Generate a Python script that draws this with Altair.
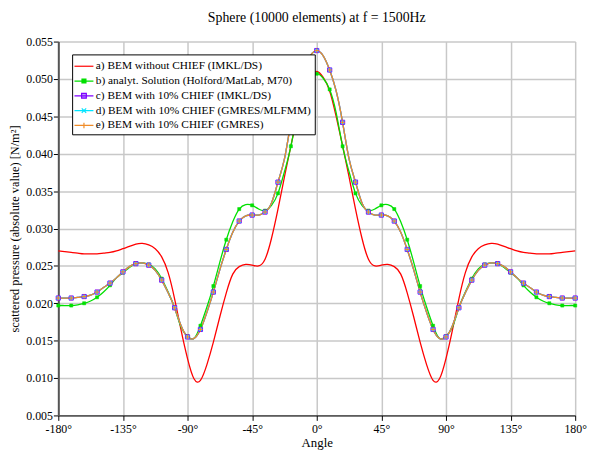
import altair as alt
import pandas as pd

names = [
    "a) BEM without CHIEF (IMKL/DS)",
    "b) analyt. Solution (Holford/MatLab, M70)",
    "c) BEM with 10% CHIEF (IMKL/DS)",
    "d) BEM with 10% CHIEF (GMRES/MLFMM)",
    "e) BEM with 10% CHIEF (GMRES)",
]
line_colors = ["#ff0000", "#00e000", "#8000ff", "#00e5ff", "#f08c28"]

x_ticks = [-180, -135, -90, -45, 0, 45, 90, 135, 180]
y_ticks = [0.005, 0.010, 0.015, 0.020, 0.025, 0.030, 0.035, 0.040, 0.045, 0.050, 0.055]

# sample angles (deg), 4.5 degree spacing
angles = [round(-180 + 4.5 * i, 1) for i in range(81)]

# a) red, -180 .. -4.5 and 0 .. 180
red_left = [0.0270, 0.0269, 0.0268, 0.0267, 0.0266, 0.0266, 0.0266, 0.0267, 0.0268, 0.0270,
            0.0273, 0.0276, 0.0279, 0.0280, 0.0278, 0.0273, 0.0262, 0.0241, 0.0206, 0.0164,
            0.0126, 0.0099, 0.0097, 0.0118, 0.0148, 0.0182, 0.0214, 0.0239, 0.0249, 0.0252,
            0.0251, 0.0250, 0.0259, 0.0287, 0.0326, 0.0369, 0.0411, 0.0450, 0.0484, 0.0502]
red_right = [0.0510, 0.0502, 0.0484, 0.0450, 0.0411, 0.0369, 0.0326, 0.0287, 0.0259, 0.0250,
             0.0251, 0.0252, 0.0249, 0.0239, 0.0214, 0.0182, 0.0148, 0.0118, 0.0097, 0.0099,
             0.0126, 0.0164, 0.0206, 0.0241, 0.0262, 0.0273, 0.0278, 0.0280, 0.0279, 0.0276,
             0.0273, 0.0270, 0.0268, 0.0267, 0.0266, 0.0266, 0.0266, 0.0267, 0.0268, 0.0269,
             0.0270]

# b) green analytic
green_left = [0.0197, 0.0197, 0.0197, 0.0198, 0.0200, 0.0203, 0.0208, 0.0215, 0.0224, 0.0234,
              0.0241, 0.0248, 0.0253, 0.0254, 0.0252, 0.0246, 0.0233, 0.0215, 0.0194, 0.0168,
              0.0156, 0.0153, 0.0170, 0.0195, 0.0223, 0.0255, 0.0285, 0.0309, 0.0326, 0.0332,
              0.0331, 0.0326, 0.0324, 0.0331, 0.0347, 0.0376, 0.0410, 0.0455, 0.0486, 0.0501]
green_right = [0.0507, 0.0501, 0.0486, 0.0455, 0.0410, 0.0376, 0.0347, 0.0331, 0.0324, 0.0326,
               0.0331, 0.0332, 0.0326, 0.0309, 0.0285, 0.0255, 0.0223, 0.0195, 0.0170, 0.0153,
               0.0156, 0.0168, 0.0194, 0.0215, 0.0233, 0.0246, 0.0252, 0.0254, 0.0253, 0.0248,
               0.0241, 0.0234, 0.0224, 0.0215, 0.0208, 0.0203, 0.0200, 0.0198, 0.0197, 0.0197,
               0.0197]

# c) / d) / e) BEM with CHIEF (practically identical)
chief_left = [0.0207, 0.0207, 0.0207, 0.0208, 0.0209, 0.0211, 0.0215, 0.0221, 0.0227, 0.0234,
              0.0242, 0.0249, 0.0253, 0.0254, 0.0251, 0.0244, 0.0231, 0.0214, 0.0194, 0.0170,
              0.0155, 0.0153, 0.0165, 0.0188, 0.0215, 0.0245, 0.0272, 0.0295, 0.0310, 0.0317,
              0.0318, 0.0318, 0.0322, 0.0334, 0.0362, 0.0393, 0.0442, 0.0484, 0.0512, 0.0531]
chief_right = [0.0538, 0.0531, 0.0512, 0.0484, 0.0442, 0.0393, 0.0362, 0.0334, 0.0322, 0.0318,
               0.0318, 0.0317, 0.0310, 0.0295, 0.0272, 0.0245, 0.0215, 0.0188, 0.0165, 0.0153,
               0.0155, 0.0170, 0.0194, 0.0214, 0.0231, 0.0244, 0.0251, 0.0254, 0.0253, 0.0249,
               0.0242, 0.0234, 0.0227, 0.0221, 0.0215, 0.0211, 0.0209, 0.0208, 0.0207, 0.0207,
               0.0207]

series_values = [
    red_left + red_right,
    green_left + green_right,
    chief_left + chief_right,
    chief_left + chief_right,
    chief_left + chief_right,
]

rows = []
for name, vals in zip(names, series_values):
    for i, (a, v) in enumerate(zip(angles, vals)):
        rows.append({"angle": a, "value": v, "series": name, "mk": i % 2 == 0})
df = pd.DataFrame(rows)

FONT = "Liberation Serif"

x_enc = alt.X(
    "angle:Q",
    scale=alt.Scale(domain=[-180, 180], nice=False, zero=False),
    axis=alt.Axis(values=x_ticks, labelExpr="datum.value + '°'", title="Angle",
                  domainColor="black", domainWidth=1, tickColor="black", tickSize=5,
                  labelFontSize=12, labelPadding=3, titleFontSize=13, titlePadding=2,
                  titleFontWeight="normal", gridColor="#c8c8c8", gridWidth=1.5,
                  labelFlush=False, labelFont=FONT, titleFont=FONT),
)
y_enc = alt.Y(
    "value:Q",
    scale=alt.Scale(domain=[0.005, 0.055], nice=False, zero=False),
    axis=alt.Axis(values=y_ticks, format=".3f",
                  title="scattered pressure (absolute value) [N/m²]",
                  domainColor="#555555", domainWidth=2, tickColor="black", tickSize=5,
                  labelFontSize=12, labelPadding=1, titleFontSize=12.5, titlePadding=4,
                  titleFontWeight="normal", gridColor="#c8c8c8", gridWidth=1.5,
                  labelFont=FONT, titleFont=FONT),
)

layers = []
for name, col in zip(names, line_colors):
    layers.append(
        alt.Chart(df).transform_filter(alt.datum.series == name)
        .mark_line(color=col, strokeWidth=1.3, interpolate="natural")
        .encode(x=x_enc, y=y_enc)
    )

marker_specs = [
    (names[1], dict(shape="square", filled=True, fill="#00e000", stroke="#00e000", size=10, strokeWidth=0.5)),
    (names[2], dict(shape="square", filled=True, fill="#b794ff", stroke="#7f00ff", size=18, strokeWidth=1)),
    (names[3], dict(shape="M-1,-1L1,1M-1,1L1,-1", filled=False, stroke="#00e5ff", size=14, strokeWidth=1)),
    (names[4], dict(shape="M-1,0L1,0M0,-1L0,1", filled=False, stroke="#f08c28", size=20, strokeWidth=1)),
]
for name, props in marker_specs:
    layers.append(
        alt.Chart(df).transform_filter((alt.datum.series == name) & alt.datum.mk)
        .mark_point(opacity=1, **props)
        .encode(x=x_enc, y=y_enc)
    )

legend_paths = [
    "M-1.2,0L1.2,0",
    "M-1.2,0L1.2,0M-0.25,-0.25L0.25,-0.25L0.25,0.25L-0.25,0.25Z",
    "M-1.2,0L1.2,0M-0.3,-0.3L0.3,-0.3L0.3,0.3L-0.3,0.3Z",
    "M-1.2,0L1.2,0M-0.28,-0.28L0.28,0.28M-0.28,0.28L0.28,-0.28",
    "M-1.2,0L1.2,0M0,-0.35L0,0.35",
]
legend_fills = ["transparent", "#00e000", "#b794ff", "transparent", "transparent"]

leg = alt.Legend(
    title=None, orient="none", legendX=14, legendY=13,
    fillColor="white", strokeColor="black", padding=3,
    symbolSize=256, symbolStrokeWidth=1.2,
    labelFont=FONT, labelFontSize=11.5, labelColor="black", labelOffset=3,
    rowPadding=0, labelLimit=400,
)
legend_layer = (
    alt.Chart(df).transform_filter("false")
    .mark_point(size=256, filled=True, strokeWidth=1.2, opacity=1)
    .encode(
        x=x_enc, y=y_enc,
        shape=alt.Shape("series:N", scale=alt.Scale(domain=names, range=legend_paths), legend=leg),
        fill=alt.Fill("series:N", scale=alt.Scale(domain=names, range=legend_fills), legend=leg),
        stroke=alt.Stroke("series:N", scale=alt.Scale(domain=names, range=line_colors), legend=leg),
    )
)
layers.append(legend_layer)

chart = (
    alt.layer(*layers)
    .properties(
        width=524, height=379,
        title=alt.TitleParams("Sphere (10000 elements) at f = 1500Hz", fontSize=14, font=FONT,
                              fontWeight="normal", offset=11, anchor="middle", color="black"),
        autosize=alt.AutoSizeParams(type="none"),
        padding={"left": 51, "top": 31, "right": 14, "bottom": 32},
    )
    .configure(font=FONT, style={"guide-label": {"font": FONT}, "guide-title": {"font": FONT}})
    .configure_axis(labelFont=FONT, titleFont=FONT, labelColor="black", titleColor="black")
    .configure_legend(labelFont=FONT, labelFontSize=11.5, labelColor="black")
    .configure_title(font=FONT)
    .configure_view(stroke=None)
)

chart.save("out.html", embed_options={"renderer": "svg", "actions": False})
